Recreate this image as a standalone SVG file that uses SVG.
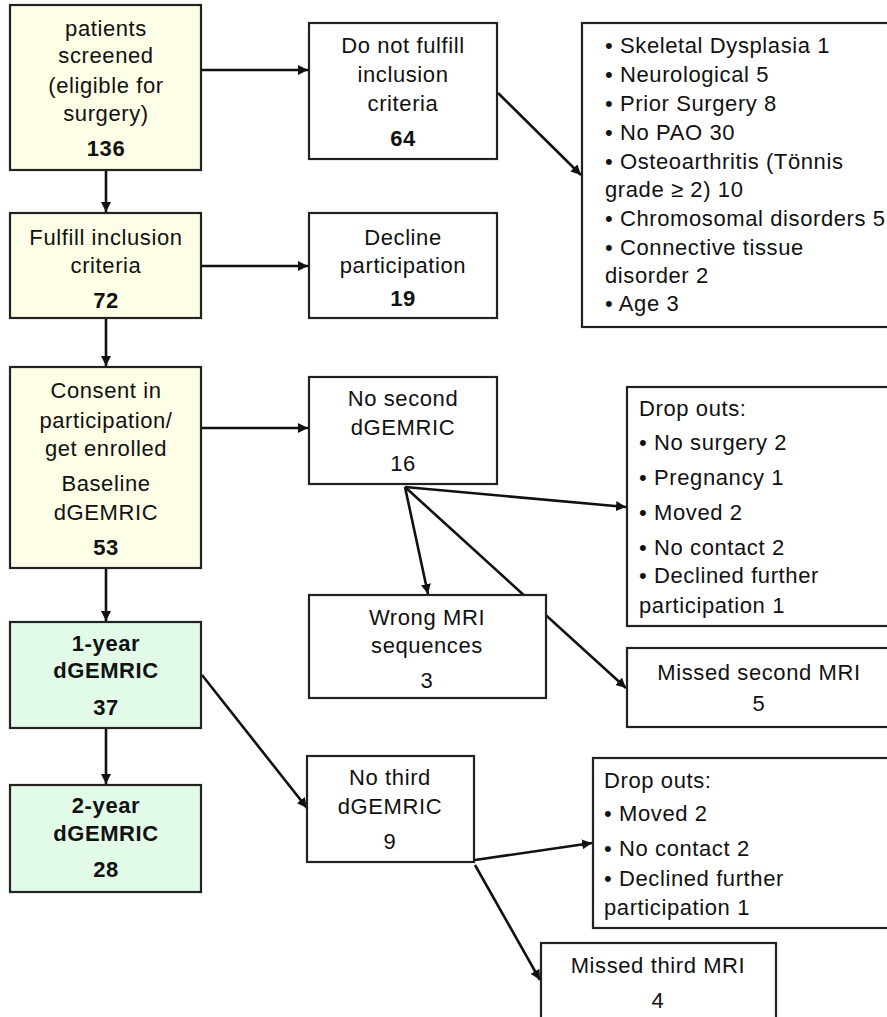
<svg xmlns="http://www.w3.org/2000/svg" width="887" height="1017" viewBox="0 0 887 1017">
<style>
.box{stroke:#222;stroke-width:2.2;fill:#fff}
.yel{fill:#fefde6}
.grn{fill:#e2fbe8}
text{font-family:"Liberation Sans",Arial,sans-serif;font-size:22px;letter-spacing:0.6px;fill:#111}
.c{text-anchor:middle}
.b{font-weight:bold}
.con{stroke:#111;stroke-width:2.6;fill:none;marker-end:url(#ah)}
</style>
<defs>
<marker id="ah" markerUnits="userSpaceOnUse" markerWidth="12" markerHeight="10" refX="10" refY="5" orient="auto">
<path d="M0,0 L10,5 L0,10 Z" fill="#111"/>
</marker>
</defs>
<rect width="887" height="1017" fill="#fff"/>
<g id="connectors">
<line class="con" x1="106" y1="171" x2="106" y2="212"/>
<line class="con" x1="106" y1="319" x2="106" y2="366"/>
<line class="con" x1="106" y1="569" x2="106" y2="621"/>
<line class="con" x1="106" y1="729" x2="106" y2="784"/>
<line class="con" x1="202" y1="70" x2="308" y2="70"/>
<line class="con" x1="202" y1="266" x2="308" y2="266"/>
<line class="con" x1="202" y1="428" x2="308" y2="428"/>
<line class="con" x1="498" y1="93" x2="581" y2="175"/>
<line class="con" x1="405" y1="487" x2="428" y2="594"/>
<line class="con" x1="405" y1="487" x2="626" y2="507"/>
<line class="con" x1="405" y1="487" x2="626" y2="688"/>
<line class="con" x1="202" y1="675" x2="307" y2="808"/>
<line class="con" x1="475" y1="860" x2="592" y2="843"/>
<line class="con" x1="475" y1="865" x2="540" y2="980"/>
</g>
<g id="screened">
<rect class="box yel" x="10" y="5" width="191" height="165"/>
<text class="c" x="106" y="36">patients</text>
<text class="c" x="106" y="63">screened</text>
<text class="c" x="106" y="93">(eligible for</text>
<text class="c" x="106" y="121">surgery)</text>
<text class="c b" x="106" y="156">136</text>
</g>
<g id="fulfill">
<rect class="box yel" x="10" y="213" width="191" height="105"/>
<text class="c" x="106" y="245">Fulfill inclusion</text>
<text class="c" x="106" y="273">criteria</text>
<text class="c b" x="106" y="308">72</text>
</g>
<g id="consent">
<rect class="box yel" x="10" y="367" width="191" height="201"/>
<text class="c" x="106" y="398">Consent in</text>
<text class="c" x="106" y="428">participation/</text>
<text class="c" x="106" y="456">get enrolled</text>
<text class="c" x="106" y="491">Baseline</text>
<text class="c" x="106" y="520">dGEMRIC</text>
<text class="c b" x="106" y="555">53</text>
</g>
<g id="year1">
<rect class="box grn" x="10" y="622" width="191" height="106"/>
<text class="c b" x="106" y="651">1-year</text>
<text class="c b" x="106" y="678">dGEMRIC</text>
<text class="c b" x="106" y="715">37</text>
</g>
<g id="year2">
<rect class="box grn" x="10" y="785" width="191" height="107"/>
<text class="c b" x="106" y="813">2-year</text>
<text class="c b" x="106" y="841">dGEMRIC</text>
<text class="c b" x="106" y="877">28</text>
</g>
<g id="notfulfill">
<rect class="box" x="309" y="23" width="188" height="136"/>
<text class="c" x="403" y="53">Do not fulfill</text>
<text class="c" x="403" y="82">inclusion</text>
<text class="c" x="403" y="111">criteria</text>
<text class="c b" x="403" y="146">64</text>
</g>
<g id="decline">
<rect class="box" x="309" y="213" width="188" height="105"/>
<text class="c" x="403" y="245">Decline</text>
<text class="c" x="403" y="273">participation</text>
<text class="c b" x="403" y="306">19</text>
</g>
<g id="reasons">
<rect class="box" x="582" y="23" width="330" height="304"/>
<text x="605" y="53">• Skeletal Dysplasia 1</text>
<text x="605" y="82">• Neurological 5</text>
<text x="605" y="111">• Prior Surgery 8</text>
<text x="605" y="140">• No PAO 30</text>
<text x="605" y="169">• Osteoarthritis (Tönnis</text>
<text x="605" y="197">grade ≥ 2) 10</text>
<text x="605" y="226">• Chromosomal disorders 5</text>
<text x="605" y="255">• Connective tissue</text>
<text x="605" y="283">disorder 2</text>
<text x="605" y="311">• Age 3</text>
</g>
<g id="nosecond">
<rect class="box" x="309" y="377" width="188" height="107"/>
<text class="c" x="403" y="406">No second</text>
<text class="c" x="403" y="435">dGEMRIC</text>
<text class="c" x="403" y="471">16</text>
</g>
<g id="dropouts1">
<rect class="box" x="627" y="387" width="280" height="239"/>
<text x="639" y="416">Drop outs:</text>
<text x="639" y="450">• No surgery 2</text>
<text x="639" y="485">• Pregnancy 1</text>
<text x="639" y="520">• Moved 2</text>
<text x="639" y="555">• No contact 2</text>
<text x="639" y="583">• Declined further</text>
<text x="639" y="613">participation 1</text>
</g>
<g id="wrongmri">
<rect class="box" x="309" y="595" width="237" height="103"/>
<text class="c" x="427" y="625">Wrong MRI</text>
<text class="c" x="427" y="653">sequences</text>
<text class="c" x="427" y="688">3</text>
</g>
<g id="missed2">
<rect class="box" x="627" y="648" width="280" height="79"/>
<text class="c" x="759" y="680">Missed second MRI</text>
<text class="c" x="759" y="711">5</text>
</g>
<g id="nothird">
<rect class="box" x="307" y="756" width="167" height="106"/>
<text class="c" x="390" y="785">No third</text>
<text class="c" x="390" y="814">dGEMRIC</text>
<text class="c" x="390" y="849">9</text>
</g>
<g id="dropouts2">
<rect class="box" x="593" y="758" width="314" height="170"/>
<text x="604" y="788">Drop outs:</text>
<text x="604" y="821">• Moved 2</text>
<text x="604" y="856">• No contact 2</text>
<text x="604" y="886">• Declined further</text>
<text x="604" y="915">participation 1</text>
</g>
<g id="missed3">
<rect class="box" x="541" y="943" width="235" height="90"/>
<text class="c" x="658" y="973">Missed third MRI</text>
<text class="c" x="658" y="1008">4</text>
</g>
</svg>
